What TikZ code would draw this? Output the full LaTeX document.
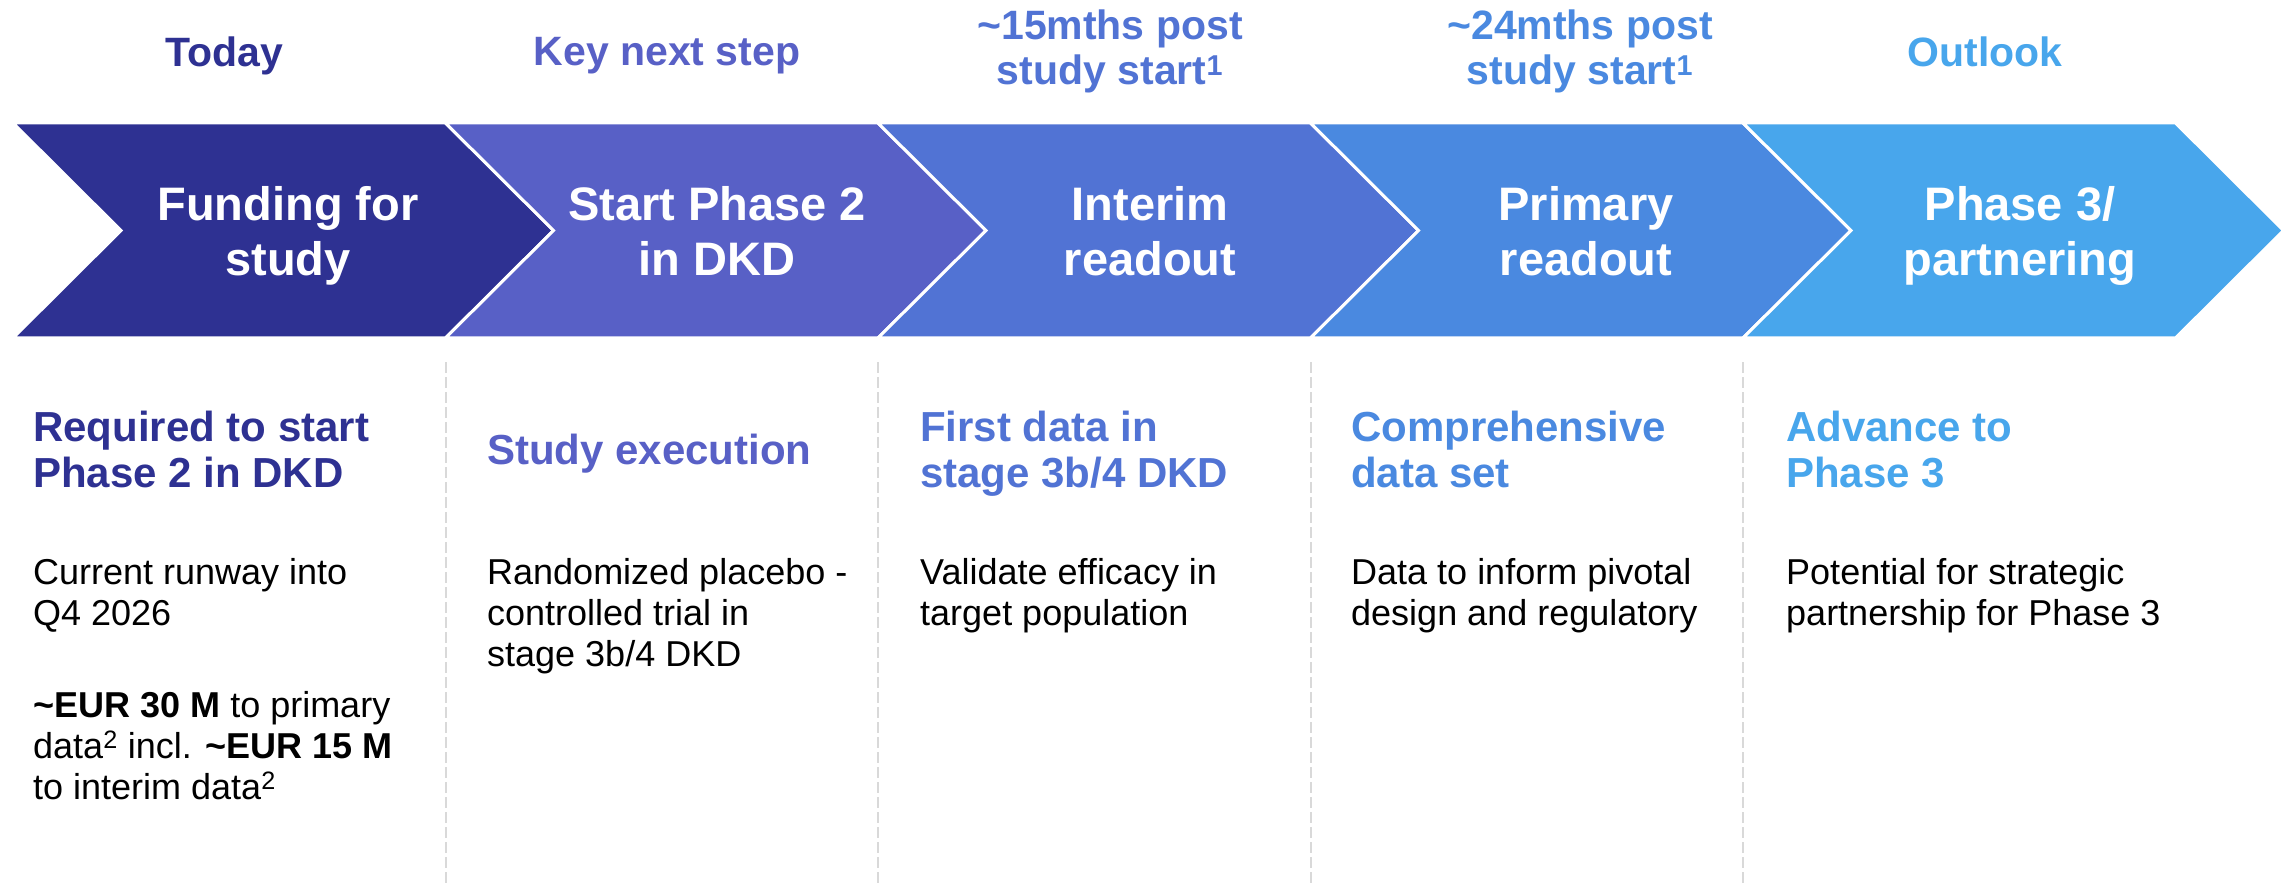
\documentclass[tikz,border=0pt]{standalone}
\usepackage{fontspec}
\setmainfont{Liberation Sans}
\definecolor{cA}{HTML}{2E3192}
\definecolor{cB}{HTML}{5860C6}
\definecolor{cC}{HTML}{5173D4}
\definecolor{cD}{HTML}{4A89E0}
\definecolor{cE}{HTML}{48A6EC}
\definecolor{dashgray}{HTML}{D9D9D9}
\tikzset{
  chev/.style={draw=white, line width=3pt, line join=miter},
  toplabel/.style={font=\fontsize{41}{45}\selectfont\bfseries, align=center, anchor=base, inner sep=0pt},
  chevtext/.style={font=\fontsize{47}{55}\selectfont\bfseries, text=white, align=center, anchor=base, inner sep=0pt},
  heading/.style={font=\fontsize{42}{46}\selectfont\bfseries, align=left, anchor=base west, inner sep=0pt},
  body/.style={font=\fontsize{36}{41}\selectfont, align=left, anchor=base west, inner sep=0pt, text=black},
  sep/.style={draw=dashgray, line width=2pt, dash pattern=on 11pt off 4pt}
}
\begin{document}
\begin{tikzpicture}[x=1pt,y=-1pt]
\useasboundingbox (0,0) rectangle (2295,885);
% chevrons
\foreach \i/\c in {0/cA,1/cB,2/cC,3/cD,4/cE}{
  \pgfmathsetmacro{\L}{13+432.5*\i}
  \pgfmathsetmacro{\R}{\L+432.5}
  \path[chev, fill=\c] (\L,123) -- (\R,123) -- (\R+108,230.5) -- (\R,338) -- (\L,338) -- (\L+108,230.5) -- cycle;
}
% separators
\foreach \x [count=\k] in {445.5,878,1310.5,1743}{
  \coordinate (s\k t) at (\x,362);
  \coordinate (s\k b) at (\x,885);
  \draw[sep] (s\k t) -- (s\k b);
}
% top labels (anchor = baseline of last line)
\node[toplabel, text=cA] (t1) at (224,67) {Today};
\node[toplabel, text=cB] (t2) at (667,66) {Key next step};
\node[toplabel, text=cC] (t3) at (1110,85) {\textasciitilde15mths post\\study start\textsuperscript{1}};
\node[toplabel, text=cD] (t4) at (1580,85) {\textasciitilde24mths post\\study start\textsuperscript{1}};
\node[toplabel, text=cE] (t5) at (1985,67) {Outlook};
% chevron texts
\node[chevtext] (c1) at (288,276) {Funding for\\study};
\node[chevtext] (c2) at (717,276) {Start Phase 2\\in DKD};
\node[chevtext] (c3) at (1150,276) {Interim\\readout};
\node[chevtext] (c4) at (1586,276) {Primary\\readout};
\node[chevtext] (c5) at (2020,276) {Phase 3/\\partnering};
% headings
\node[heading, text=cA] (h1) at (33,487) {Required to start\\Phase 2 in DKD};
\node[heading, text=cB] (h2) at (487,464) {Study execution};
\node[heading, text=cC] (h3) at (920,487) {First data in\\stage 3b/4 DKD};
\node[heading, text=cD] (h4) at (1351,487) {Comprehensive\\data set};
\node[heading, text=cE] (h5) at (1786,487) {Advance to\\Phase 3};
% bodies
\node[body] (b1) at (33,625) {Current runway into\\Q4 2026};
\node[body] (b1b) at (33,799) {\textbf{\textasciitilde EUR 30 M} to primary\\data\textsuperscript{2} incl. \textbf{\textasciitilde EUR 15 M}\\to interim data\textsuperscript{2}};
\node[body] (b2) at (487,666) {Randomized placebo -\\controlled trial in\\stage 3b/4 DKD};
\node[body] (b3) at (920,625) {Validate efficacy in\\target population};
\node[body] (b4) at (1351,625) {Data to inform pivotal\\design and regulatory};
\node[body] (b5) at (1786,625) {Potential for strategic\\partnership for Phase 3};
\end{tikzpicture}
\end{document}
